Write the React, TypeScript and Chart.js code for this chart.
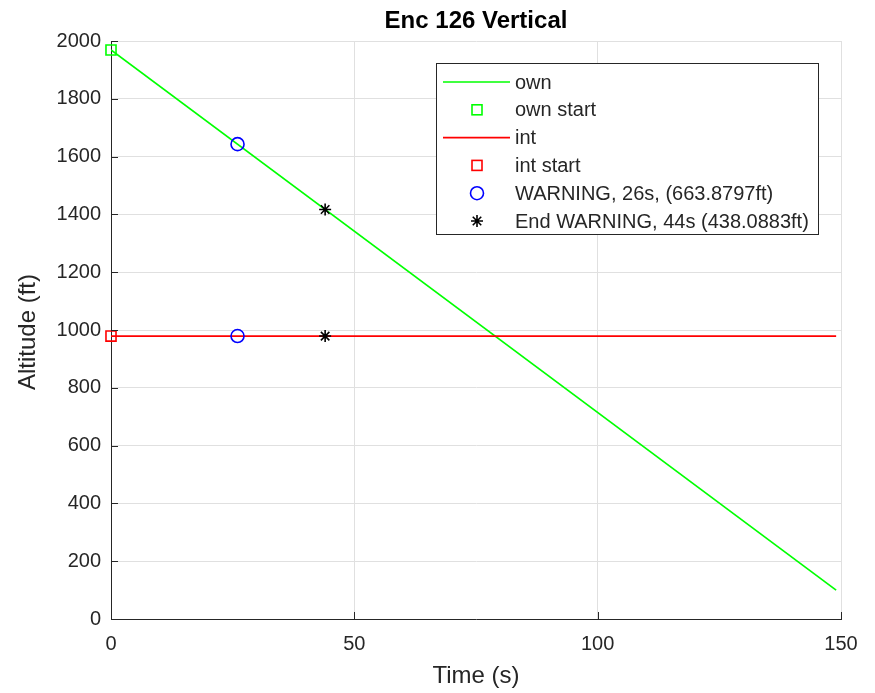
import React, { useEffect, useRef } from "react";
import { Chart, registerables } from "chart.js";

Chart.register(...registerables);

// Encounter 126, vertical profile
const ownTime = [0, 149];
const ownAlt = [1969, 100];
const intTime = [0, 149];
const intAlt = [979, 979];

const ownStart = { t: 0, alt: 1969 };
const intStart = { t: 0, alt: 979 };

const warningTime = [26, 26];
const warningAlt = [1643, 979];
const endWarningTime = [44, 44];
const endWarningAlt = [1417, 979];

const legendLabels = [
  "own",
  "own start",
  "int",
  "int start",
  "WARNING, 26s, (663.8797ft)",
  "End WARNING, 44s (438.0883ft)",
];

const titleText = "Enc 126 Vertical";
const xTitle = "Time (s)";
const yTitle = "Altitude (ft)";

const FONT = "'Liberation Sans', Arial, Helvetica, sans-serif";
const AXIS = "#262626";
const GREEN = "#00ff00";
const RED = "#ff0000";
const BLUE = "#0000ff";

const W = 875;
const H = 693;
const AREA = { left: 111, right: 841, top: 41, bottom: 619 };

const pts = (xs: number[], ys: number[]) => xs.map((x, i) => ({ x, y: ys[i] }));

const decorations = {
  id: "decorations",
  afterDraw(chart: any) {
    const ctx = chart.ctx as CanvasRenderingContext2D;
    const { chartArea, scales } = chart;
    const xs = scales.x;
    const ys = scales.y;
    ctx.save();

    // inward tick marks
    ctx.strokeStyle = AXIS;
    ctx.lineWidth = 1;
    ctx.beginPath();
    ys.ticks.forEach((t: any) => {
      const y = Math.round(ys.getPixelForValue(t.value)) + 0.5;
      ctx.moveTo(chartArea.left, y);
      ctx.lineTo(chartArea.left + 7, y);
    });
    xs.ticks.forEach((t: any) => {
      const x = Math.round(xs.getPixelForValue(t.value)) + 0.5;
      ctx.moveTo(x, chartArea.bottom);
      ctx.lineTo(x, chartArea.bottom - 7);
    });
    ctx.stroke();

    // title and axis titles
    const cx = (chartArea.left + chartArea.right) / 2;
    const cy = (chartArea.top + chartArea.bottom) / 2;
    ctx.fillStyle = "#000";
    ctx.font = `bold 24px ${FONT}`;
    ctx.textAlign = "center";
    ctx.textBaseline = "middle";
    ctx.fillText(titleText, cx, 21);

    ctx.fillStyle = AXIS;
    ctx.font = `24px ${FONT}`;
    ctx.fillText(xTitle, cx, 676);
    ctx.save();
    ctx.translate(28, cy + 2);
    ctx.rotate(-Math.PI / 2);
    ctx.fillText(yTitle, 0, 0);
    ctx.restore();

    // legend
    const lx = 436.5, ly = 63.5, lw = 382, lh = 171;
    ctx.fillStyle = "#fff";
    ctx.fillRect(lx, ly, lw, lh);
    ctx.strokeStyle = AXIS;
    ctx.lineWidth = 1;
    ctx.strokeRect(lx, ly, lw, lh);

    const rowY = (i: number) => 82 + i * 27.8;
    const mx = 477;
    ctx.font = `20px ${FONT}`;
    ctx.textAlign = "left";
    ctx.textBaseline = "middle";
    legendLabels.forEach((label, i) => {
      const y = rowY(i);
      ctx.lineWidth = 1.6;
      if (i === 0 || i === 2) {
        ctx.strokeStyle = i === 0 ? GREEN : RED;
        ctx.beginPath();
        ctx.moveTo(443, y);
        ctx.lineTo(510, y);
        ctx.stroke();
      } else if (i === 1 || i === 3) {
        ctx.strokeStyle = i === 1 ? GREEN : RED;
        ctx.strokeRect(mx - 5, y - 5, 10, 10);
      } else if (i === 4) {
        ctx.strokeStyle = BLUE;
        ctx.beginPath();
        ctx.arc(mx, y, 6.5, 0, Math.PI * 2);
        ctx.stroke();
      } else {
        ctx.strokeStyle = "#000";
        ctx.beginPath();
        const r = 6;
        for (let k = 0; k < 4; k++) {
          const a = (k * Math.PI) / 4;
          ctx.moveTo(mx - r * Math.cos(a), y - r * Math.sin(a));
          ctx.lineTo(mx + r * Math.cos(a), y + r * Math.sin(a));
        }
        ctx.stroke();
      }
      ctx.fillStyle = AXIS;
      ctx.fillText(label, 515, y + 1);
    });

    ctx.restore();
  },
};

export default function App() {
  const ref = useRef<HTMLCanvasElement | null>(null);

  useEffect(() => {
    if (!ref.current) return;
    const chart = new Chart(ref.current, {
      type: "scatter",
      data: {
        datasets: [
          {
            label: legendLabels[0],
            data: pts(ownTime, ownAlt),
            showLine: true,
            borderColor: GREEN,
            borderWidth: 1.7,
            pointRadius: 0,
            order: 10,
          },
          {
            label: legendLabels[1],
            data: [{ x: ownStart.t, y: ownStart.alt }],
            pointStyle: "rect",
            pointRadius: 7.1,
            borderColor: GREEN,
            backgroundColor: "rgba(0,0,0,0)",
            borderWidth: 1.6,
            clip: false,
            order: 1,
          },
          {
            label: legendLabels[2],
            data: pts(intTime, intAlt),
            showLine: true,
            borderColor: RED,
            borderWidth: 1.7,
            pointRadius: 0,
            order: 9,
          },
          {
            label: legendLabels[3],
            data: [{ x: intStart.t, y: intStart.alt }],
            pointStyle: "rect",
            pointRadius: 7.1,
            borderColor: RED,
            backgroundColor: "rgba(0,0,0,0)",
            borderWidth: 1.6,
            clip: false,
            order: 1,
          },
          {
            label: legendLabels[4],
            data: pts(warningTime, warningAlt),
            pointStyle: "circle",
            pointRadius: 6.5,
            borderColor: BLUE,
            backgroundColor: "rgba(0,0,0,0)",
            borderWidth: 1.6,
            order: 1,
          },
          {
            label: legendLabels[5],
            data: pts(endWarningTime, endWarningAlt),
            pointStyle: "star",
            pointRadius: 6,
            borderColor: "#000",
            backgroundColor: "#000",
            borderWidth: 1.6,
            order: 1,
          },
        ],
      },
      options: {
        responsive: false,
        animation: false,
        events: [],
        layout: {
          padding: { left: 0, top: AREA.top, right: W - AREA.right, bottom: 0 },
        },
        plugins: {
          legend: { display: false },
          title: { display: false },
          tooltip: { enabled: false },
        },
        scales: {
          x: {
            type: "linear",
            min: 0,
            max: 150,
            afterFit: (s: any) => {
              s.height = H - AREA.bottom;
            },
            ticks: {
              stepSize: 50,
              color: AXIS,
              padding: 13,
              font: { family: FONT, size: 20 },
              maxRotation: 0,
              callback: (v: any) => String(v),
            },
            grid: { color: "#e0e0e0", drawTicks: false, lineWidth: 1 },
            border: { display: true, color: AXIS, width: 1 },
          },
          y: {
            type: "linear",
            min: 0,
            max: 2000,
            afterFit: (s: any) => {
              s.width = AREA.left;
            },
            ticks: {
              stepSize: 200,
              color: AXIS,
              padding: 10,
              font: { family: FONT, size: 20 },
              callback: (v: any) => String(v),
            },
            grid: { color: "#e0e0e0", drawTicks: false, lineWidth: 1 },
            border: { display: true, color: AXIS, width: 1 },
          },
        },
      },
      plugins: [decorations],
    });
    return () => chart.destroy();
  }, []);

  return (
    <div style={{ position: "fixed", left: 0, top: 0, width: W, height: H, background: "#fff" }}>
      <canvas ref={ref} width={W} height={H} style={{ width: W, height: H, display: "block" }} />
    </div>
  );
}
